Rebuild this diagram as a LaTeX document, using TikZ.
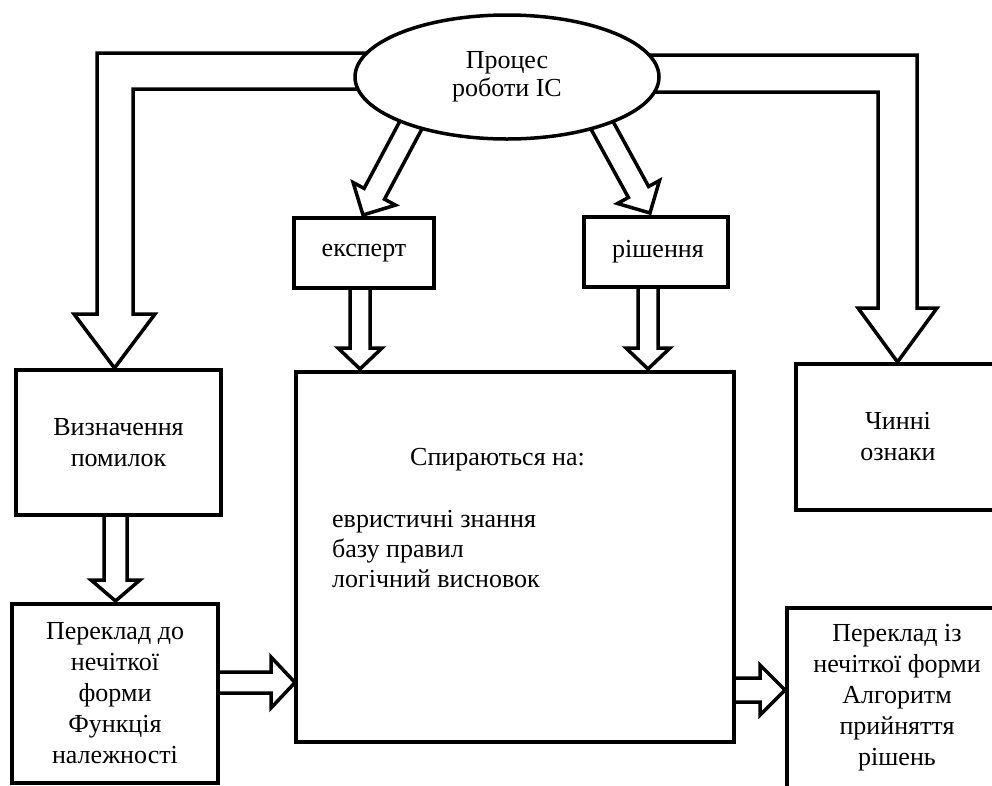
\documentclass[tikz,border=0pt]{standalone}
\usepackage{fontspec}
\setmainfont{Liberation Serif}
\usetikzlibrary{shapes.geometric}
\begin{document}
\begin{tikzpicture}[x=1pt,y=-1pt,
  ln/.style={line width=3.5pt, line join=miter},
  txt/.style={font=\fontsize{26}{31}\selectfont},
  box/.style={draw, ln, fill=white, inner sep=0pt, align=center, txt},
  fat/.style={draw, ln, fill=white}]
\useasboundingbox (0,0) rectangle (992,785);
\clip (0,0) rectangle (992,785);

% arrows that start inside the ellipse
\draw[fat] (380,53) -- (97,53) -- (97,314) -- (74,314) -- (114.5,368) -- (155,314) -- (133,314) -- (133,89) -- (380,89) -- cycle;
\draw[fat] (630,55) -- (917,55) -- (917,308) -- (937,308) -- (897.5,362) -- (858,308) -- (878,308) -- (878,92) -- (630,92) -- cycle;
\draw[fat] (430.2,113.4) -- (384.5,199.2) -- (395.5,205.1) -- (363,215) -- (353.1,182.5) -- (364.1,188.4) -- (409.8,102.6) -- cycle;
\draw[fat] (587.9,123.5) -- (628.4,197.5) -- (617.5,203.5) -- (650,213) -- (659.5,180.5) -- (648.6,186.5) -- (608.1,112.5) -- cycle;

% nodes
\node[ellipse, draw, ln, fill=white, minimum width=304pt, minimum height=124pt, inner sep=0pt,
      align=center, font=\fontsize{26}{28}\selectfont] (proc) at (507,77) {Процес\\роботи ІС};
\node[box, minimum width=140pt, minimum height=70pt] (ekspert) at (364,253) {експерт};
\node[box, minimum width=144pt, minimum height=70pt] (rishennya) at (656,252) {\hspace*{4pt}рішення};
\node[box, minimum width=205pt, minimum height=145pt] (vyzn) at (118.5,442.5) {Визначення\\помилок};
\node[box, minimum width=206pt, minimum height=179pt] (perekl1) at (115,693.5) {Переклад до\\нечіткої\\форми\\Функція\\належності};
\node[box, minimum width=438pt, minimum height=370pt] (centr) at (515,557) {};
\node[box, minimum width=204pt, minimum height=146pt] (chynni) at (898,437) {Чинні\\ознаки};
\node[box, minimum width=220pt, minimum height=180pt] (perekl2) at (897,698) {Переклад із\\нечіткої форми\\Алгоритм\\прийняття\\рішень};

\node[txt, anchor=base west, inner sep=0pt] (t1) at (410,465) {Спираються на:};
\node[txt, anchor=base west, inner sep=0pt] (t2) at (332,527) {евристичні знання};
\node[txt, anchor=base west, inner sep=0pt] (t3) at (332,557) {базу правил};
\node[txt, anchor=base west, inner sep=0pt] (t4) at (332,587) {логічний висновок};

% short fat arrows between boxes
\draw[fat] (350,288) -- (350,348) -- (338,348) -- (360,369) -- (382,348) -- (370,348) -- (370,288) -- cycle;
\draw[fat] (638,287) -- (638,348) -- (626,348) -- (648,369) -- (670,348) -- (658,348) -- (658,287) -- cycle;
\draw[fat] (104,515) -- (104,580) -- (91,580) -- (115.5,601) -- (140,580) -- (127,580) -- (127,515) -- cycle;
\draw[fat] (218,672) -- (271,672) -- (271,657) -- (295,682.5) -- (271,708) -- (271,693) -- (218,693) -- cycle;
\draw[fat] (734,678) -- (760,678) -- (760,665) -- (785,690) -- (760,715) -- (760,702) -- (734,702) -- cycle;
\end{tikzpicture}
\end{document}
